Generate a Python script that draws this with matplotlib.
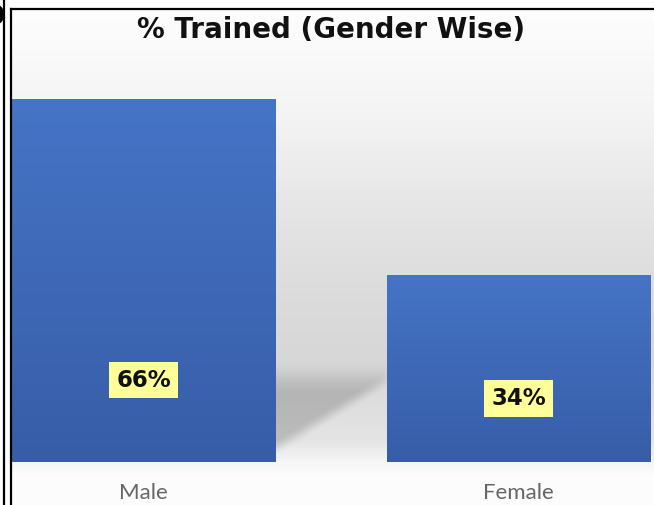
import matplotlib
matplotlib.use("Agg")
import matplotlib.pyplot as plt
import numpy as np
from matplotlib.lines import Line2D

# data
genders = ["Male", "Female"]
trained_pct = [66, 34]
label_y = [14.9, 11.5]  # where the value boxes sit inside the bars

W, H = 654, 505
fig = plt.figure(figsize=(W / 100, H / 100), dpi=100)

# ---- background: soft grey gradient plus the floor shadow between bars
bg_ax = fig.add_axes([0, 0, 1, 1], zorder=0)
yy, xx = np.mgrid[0:H, 0:W].astype(float)
prof_y = [0, 40, 120, 220, 300, 360, 440, 462, 475, 505]
prof_v = [253, 251, 243, 228, 219, 215, 228, 246, 252, 253]
bg = np.interp(yy, prof_y, prof_v)


def smooth(t):
    t = np.clip(t, 0, 1)
    return t * t * (3 - 2 * t)


y_line = 455 - (xx - 278) * (66 / 108)
shade = smooth((yy - 358) / 38) * smooth((y_line - yy) / 18)
shade *= smooth((400 - xx) / 20) * (xx > 270)
bg = bg - 40 * shade
bg = np.clip(bg, 0, 255) / 255
bg_rgb = np.dstack([bg, bg, bg])
bg_rgb[:9, :, :] = 1.0
bg_rgb[:, :11, :] = 1.0
bg_ax.imshow(bg_rgb, extent=[0, W, H, 0], aspect="auto", interpolation="bilinear")
bg_ax.set_xlim(0, W)
bg_ax.set_ylim(H, 0)
bg_ax.axis("off")

# ---- bar chart axes
px_per_cat = 375.0
px_per_unit = 5.5
ax = fig.add_axes([11 / W, (H - 462) / H, (W - 11) / W, 385 / H], zorder=2)
ax.patch.set_alpha(0)
x = np.arange(len(genders))
bars = ax.bar(x, trained_pct, width=0.703, color="#4472C4", zorder=2)

grad = np.linspace(0, 1, 256)[:, None]
top_c = np.array([70, 116, 198]) / 255
bot_c = np.array([55, 93, 167]) / 255
grad_img = (top_c[None, None, :] * (1 - grad[:, :, None]) + bot_c[None, None, :] * grad[:, :, None])
for b in bars:
    im = ax.imshow(grad_img, extent=[b.get_x(), b.get_x() + b.get_width(), 0, b.get_height()],
                   aspect="auto", zorder=3, origin="upper")
    im.set_clip_path(b)

ax.set_xlim(-(143.5 - 11) / px_per_cat, 1 + (W - 518.5) / px_per_cat)
ax.set_ylim(0, 385 / px_per_unit)

for xi, v, ly in zip(x, trained_pct, label_y):
    ax.text(xi, ly, f"{v}%", ha="center", va="center", fontsize=16.5, fontweight="bold",
            color="#111111", zorder=5,
            bbox=dict(boxstyle="square,pad=0.3", facecolor="#FFFF99", edgecolor="none"))

ax.set_xticks(x)
ax.set_xticklabels(genders, fontsize=16, color="#666666", family="Lato")
ax.tick_params(axis="x", length=0, pad=15)
ax.set_yticks([])
for s in ax.spines.values():
    s.set_visible(False)

fig.text(331 / W, 1 - 30 / H, "% Trained (Gender Wise)", ha="center", va="center",
         fontsize=20, fontweight="bold", color="#111111", zorder=5)

# ---- frame lines of the cropped picture
fig.add_artist(Line2D([4 / W, 4 / W], [0, 1], color="black", lw=1.6, zorder=6))
fig.add_artist(Line2D([11 / W, 11 / W], [0, 1 - 9 / H], color="black", lw=1.6, zorder=6))
fig.add_artist(Line2D([11 / W, 1], [1 - 9 / H, 1 - 9 / H], color="black", lw=1.6, zorder=6))
fig.text(5 / W, 1 - 17 / H, "O", ha="right", va="center", fontsize=20, fontweight="bold",
         color="black", zorder=6)

fig.savefig("out.png", dpi=100)
